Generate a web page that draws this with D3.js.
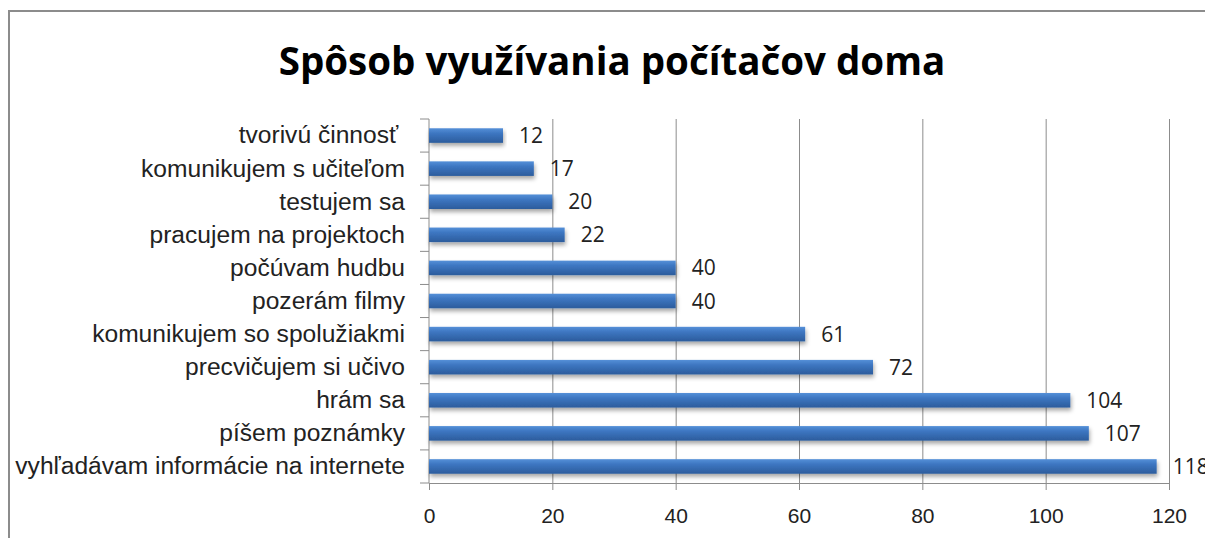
<!DOCTYPE html>
<html>
<head>
<meta charset="utf-8">
<script src="https://cdn.jsdelivr.net/npm/d3@7"></script>
<style>
  body { margin: 0; background: #fff; }
  svg { display: block; font-family: "Open Sans", sans-serif; }
  .grid line { stroke: #8c8c8c; stroke-width: 1; }
  .grid path { display: none; }
  .x-axis path, .x-axis line { stroke: #8c8c8c; }
  .x-axis text { fill: #222; font-size: 21px; }
  .y-axis path { display: none; }
  .y-axis text { fill: #222; font-size: 18px; white-space: pre; }
  .value { fill: #222; font-size: 21px; }
</style>
</head>
<body>
<svg></svg>
<script>
const title = "Spôsob využívania počítačov doma"

const categories = [
  "tvorivú činnosť ",
  "komunikujem s učiteľom",
  "testujem sa",
  "pracujem na projektoch",
  "počúvam hudbu",
  "pozerám filmy",
  "komunikujem so spolužiakmi",
  "precvičujem si učivo",
  "hrám sa",
  "píšem poznámky",
  "vyhľadávam informácie na internete"
]

const values = [12, 17, 20, 22, 40, 40, 61, 72, 104, 107, 118]

const xTicks = [0, 20, 40, 60, 80, 100, 120]

const svg = d3.select("svg")
  .attr("width", 1205)
  .attr("height", 538)

// chart border (cropped on right and bottom)
svg.append("rect")
  .attr("x", 9)
  .attr("y", 11)
  .attr("width", 1300)
  .attr("height", 600)
  .attr("fill", "#fff")
  .attr("stroke", "#8c8c8c")
  .attr("stroke-width", 2)

const defs = svg.append("defs")

const grad = defs.append("linearGradient")
  .attr("id", "barGrad")
  .attr("x1", 0).attr("y1", 0)
  .attr("x2", 0).attr("y2", 1)
grad.append("stop").attr("offset", "0%").attr("stop-color", "#5590d8")
grad.append("stop").attr("offset", "35%").attr("stop-color", "#3d76c1")
grad.append("stop").attr("offset", "100%").attr("stop-color", "#2c5c9c")

const shadow = defs.append("filter")
  .attr("id", "shadow")
  .attr("x", "-5%").attr("y", "-50%")
  .attr("width", "110%").attr("height", "250%")
shadow.append("feDropShadow")
  .attr("dx", 1)
  .attr("dy", 3)
  .attr("stdDeviation", 2)
  .attr("flood-color", "#000")
  .attr("flood-opacity", 0.35)

const plotLeft = 429
const plotRight = 1169
const plotTop = 119
const plotBottom = 483

const x = d3.scaleLinear()
  .domain([0, 120])
  .range([plotLeft, plotRight])

const y = d3.scaleBand()
  .domain(categories)
  .range([plotTop, plotBottom])
  .paddingInner(0.56)
  .paddingOuter(0.28)

// title, fitted to the width it has in the picture
const titleText = svg.append("text")
  .attr("x", 612)
  .attr("y", 75)
  .attr("text-anchor", "middle")
  .attr("font-weight", "bold")
  .attr("font-size", 40)
  .attr("fill", "#000")
  .text(title)
const tw = titleText.node().getComputedTextLength()
titleText.attr("font-size", 40 * 667 / tw)

// gridlines
svg.append("g")
  .attr("class", "grid")
  .attr("transform", `translate(0, ${plotTop})`)
  .call(d3.axisBottom(x)
    .tickValues(xTicks.slice(1))
    .tickSize(plotBottom - plotTop)
    .tickFormat(""))

// bottom axis
svg.append("g")
  .attr("class", "x-axis")
  .attr("transform", `translate(0, ${plotBottom})`)
  .call(d3.axisBottom(x)
    .tickValues(xTicks)
    .tickSizeInner(7)
    .tickSizeOuter(0)
    .tickPadding(18))

// left axis line and ticks between categories
const step = y.step()
const bounds = d3.range(categories.length + 1).map((i) => plotTop + i * step)

svg.append("line")
  .attr("x1", plotLeft).attr("x2", plotLeft)
  .attr("y1", plotTop).attr("y2", plotBottom)
  .attr("stroke", "#8c8c8c")

svg.selectAll("line.ytick")
  .data(bounds)
  .enter()
  .append("line")
  .attr("class", "ytick")
  .attr("x1", plotLeft - 9).attr("x2", plotLeft)
  .attr("y1", (d) => d).attr("y2", (d) => d)
  .attr("stroke", "#8c8c8c")

// category labels
const yAxis = svg.append("g")
  .attr("class", "y-axis")
  .attr("transform", `translate(${plotLeft}, 0)`)
  .call(d3.axisLeft(y)
    .tickSize(0)
    .tickPadding(24))

// fit the labels to the width they have in the picture
const longest = d3.max(yAxis.selectAll("text").nodes(), (n) => n.getComputedTextLength())
yAxis.selectAll("text").style("font-size", (18 * 390 / longest) + "px")

// bars
const bars = svg.selectAll("g.bar")
  .data(values)
  .enter()
  .append("g")
  .attr("class", "bar")

bars.append("rect")
  .attr("x", x(0))
  .attr("y", (d, i) => y(categories[i]))
  .attr("width", (d) => x(d) - x(0))
  .attr("height", y.bandwidth())
  .attr("fill", "url(#barGrad)")
  .attr("filter", "url(#shadow)")

bars.append("text")
  .attr("class", "value")
  .attr("x", (d) => x(d) + 16)
  .attr("y", (d, i) => y(categories[i]) + y.bandwidth() / 2)
  .attr("dy", "0.36em")
  .text((d) => d)
</script>
</body>
</html>
